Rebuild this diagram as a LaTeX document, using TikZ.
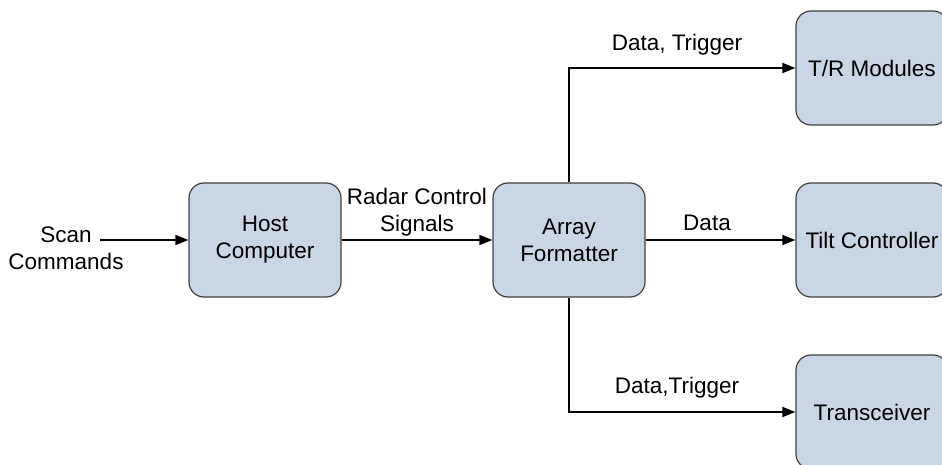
\documentclass[tikz,border=0pt]{standalone}
\usepackage{fontspec}
\setmainfont{Liberation Sans}
\usetikzlibrary{arrows.meta}
\definecolor{boxfill}{RGB}{200,214,230}
\definecolor{boxline}{RGB}{64,64,64}
\tikzset{
  blockbox/.style={draw=boxline, line width=1.2pt, fill=boxfill, rounded corners=15pt,
    minimum width=152pt, minimum height=114pt, align=center, inner sep=0pt,
    font=\fontsize{22.5}{27}\selectfont},
  flow/.style={line width=1.4pt, -{Triangle[length=13pt,width=10pt]}},
  lbl/.style={align=center, inner sep=0pt, font=\fontsize{22.5}{27}\selectfont}
}
\begin{document}
\begin{tikzpicture}[x=1pt,y=-1pt]
\useasboundingbox (0,0) rectangle (942,465);
% blocks
\node[blockbox] (host) at (265,240) {Host\\Computer};
\node[blockbox] (fmt) at (569,240) {Array\\Formatter};
\node[blockbox] (tr) at (872,68) {T/R Modules};
\node[blockbox] (tilt) at (872,240) {Tilt Controller};
\node[blockbox] (xcvr) at (872,412) {Transceiver};
% input
\coordinate (scan) at (100,240);
\node[lbl] (scanlbl) at (66,248) {Scan\\Commands};
% connectors
\draw[flow] (scan) -- (host.west);
\draw[flow] (host.east) -- (fmt.west);
\draw[flow] (fmt.east) -- (tilt.west);
\draw[flow] (fmt.north) |- (tr.west);
\draw[flow] (fmt.south) |- (xcvr.west);
% connector labels
\node[lbl] (rcs) at (417,212) {Radar Control\\Signals};
\node[lbl] (dlbl) at (707,223) {Data};
\node[lbl] (dtlbl) at (677,45) {Data, Trigger};
\node[lbl] (dt2lbl) at (677,388) {Data,Trigger};
\end{tikzpicture}
\end{document}
